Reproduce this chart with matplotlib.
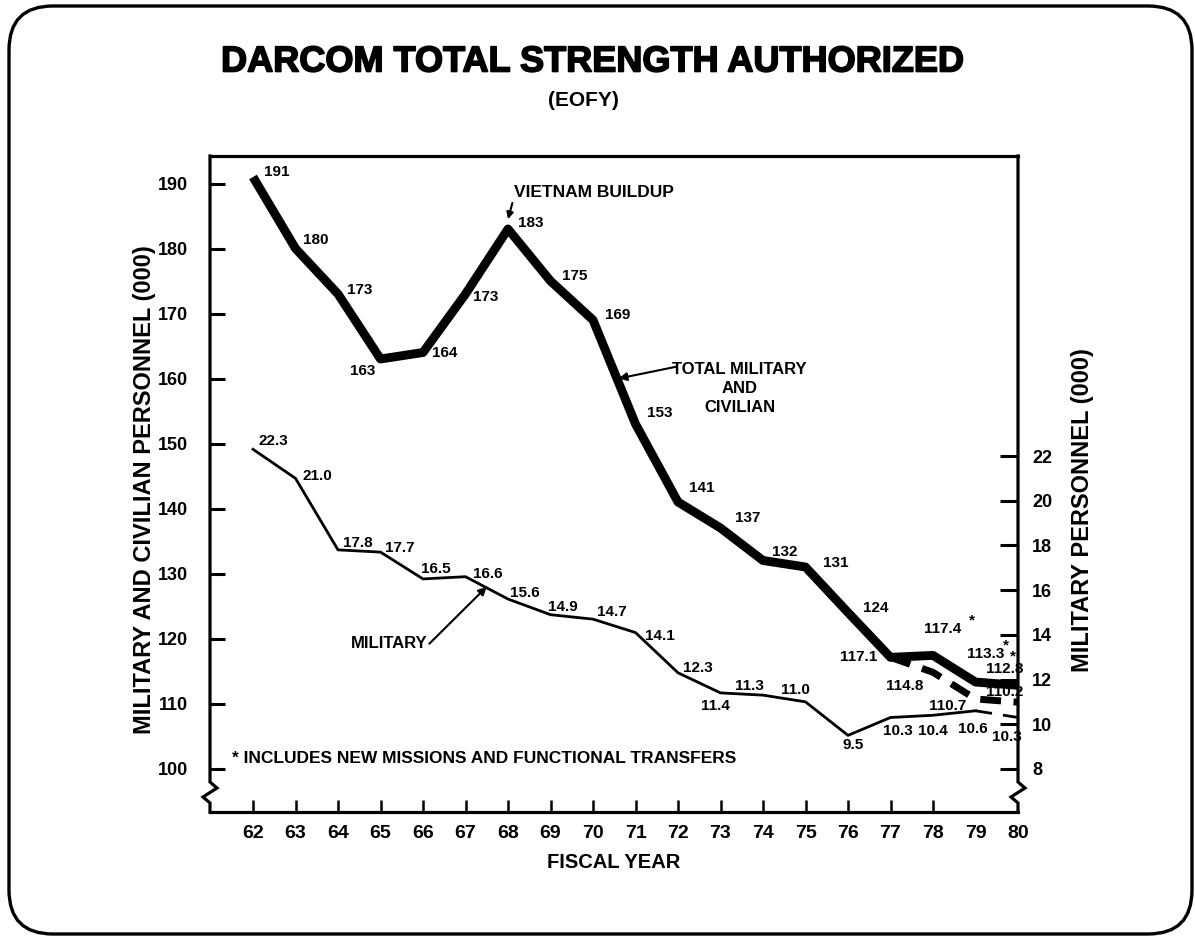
import matplotlib
matplotlib.use('Agg')
import matplotlib.pyplot as plt
import matplotlib.patheffects as pe
from matplotlib.patches import FancyBboxPatch

plt.rcParams['font.family'] = ['Liberation Sans', 'DejaVu Sans']
plt.rcParams['font.weight'] = 'bold'
plt.rcParams['axes.labelweight'] = 'bold'

# ---------------- data ----------------
years = [62, 63, 64, 65, 66, 67, 68, 69, 70, 71, 72, 73, 74, 75, 76, 77, 78, 79, 80]
total = [191, 180, 173, 163, 164, 173, 183, 175, 169, 153, 141, 137, 132, 131, 124,
         117.1, 117.4, 113.3, 112.8]
total_labels = ['191', '180', '173', '163', '164', '173', '183', '175', '169', '153', '141',
                '137', '132', '131', '124', '117.1', '117.4', '113.3', '112.8']
excl_years = [77, 78, 79, 80]
total_excl = [117.1, 114.8, 110.7, 110.2]
excl_labels = [None, '114.8', '110.7', '110.2']
military = [22.3, 21.0, 17.8, 17.7, 16.5, 16.6, 15.6, 14.9, 14.7, 14.1, 12.3, 11.4, 11.3,
            11.0, 9.5, 10.3, 10.4, 10.6, 10.3]
military_labels = ['22.3', '21.0', '17.8', '17.7', '16.5', '16.6', '15.6', '14.9', '14.7',
                   '14.1', '12.3', '11.4', '11.3', '11.0', '9.5', '10.3', '10.4', '10.6', '10.3']
starred_years = [77, 78, 79, 80]
left_ticks = [100, 110, 120, 130, 140, 150, 160, 170, 180, 190]
right_ticks = [8, 10, 12, 14, 16, 18, 20, 22]

# ------------- label offsets (pixels) -------------
total_off = [(24, 5), (20, 9), (22, 4), (-18, -12), (22, 0), (20, -3), (23, 6), (24, 5),
             (25, 5), (24, 11), (24, 14), (27, 10), (22, 9), (30, 4), (28, 4), (-32, 0),
             (10, 26), (10, 28), (-13, 16)]
excl_off = [None, (-28, -14), (-28, -7), (-13, 10)]
mil_off = [(20, 8), (22, 2), (20, 7), (19, 4), (13, 10), (22, 3), (17, 6), (12, 8), (19, 7),
           (24, -3), (20, 5), (-5, -13), (-14, 9), (-10, 12), (5, -10), (7, -14), (0, -16),
           (-3, -18), (-11, -20)]
star_off = [(-17, 17), (39, 35), (30, 37), (-5, 29)]

W, H = 1195, 938
fig = plt.figure(figsize=(W / 100, H / 100), dpi=100)

# background frame
bg = fig.add_axes([0, 0, 1, 1])
bg.set_xlim(0, W)
bg.set_ylim(H, 0)
bg.axis('off')
bg.add_patch(FancyBboxPatch((9, 6), 1183, 928, boxstyle='round,pad=0,rounding_size=44',
                            fc='white', ec='black', lw=2.4))

L, R, T, B = 210, 1018, 156, 812
ax = fig.add_axes([L / W, 1 - B / H, (R - L) / W, (B - T) / H])
ax.patch.set_alpha(0)
ax2 = ax.twinx()
ax.set_xlim(62 - 43 / 42.5, 80)
ax.set_ylim(190 - (B - 183.5) / 6.5, 190 + (183.5 - T) / 6.5)
ax2.set_ylim(22 - (B - 456) / 22.35, 22 + (456 - T) / 22.35)
for a in (ax, ax2):
    for s in a.spines.values():
        s.set_visible(False)

# custom spines with axis-break zigzags
k = dict(color='black', lw=2.3, transform=ax.transAxes, clip_on=False,
         solid_joinstyle='miter', solid_capstyle='projecting')
zx = 7 / (R - L)
fy = lambda py: (B - py) / (B - T)
ax.plot([1, 0], [1, 1], **k)
ax.plot([0, 1], [0, 0], **k)
ax.plot([0, 0, zx, -zx, 0, 0], [1, fy(782), fy(788), fy(797), fy(803), 0], **k)
ax.plot([1, 1, 1 + zx, 1 - zx, 1, 1], [1, fy(782), fy(788), fy(797), fy(803), 0], **k)

# ticks
ax.set_yticks(left_ticks)
ax.set_yticklabels([str(v) for v in left_ticks])
ax.tick_params(axis='y', direction='in', length=11, width=2.2, pad=16, labelsize=13)
ax.set_xticks(years)
ax.set_xticklabels([str(y) for y in years])
ax.tick_params(axis='x', direction='in', length=9, width=1.8, pad=9, labelsize=14)
for t in ax.xaxis.get_major_ticks()[-2:]:
    t.tick1line.set_visible(False)
ax2.set_yticks(right_ticks)
ax2.set_yticklabels([str(v) for v in right_ticks])
ax2.tick_params(axis='y', direction='in', length=13, width=2.2, pad=10, labelsize=13)

# lines
ax.plot(years, total, color='black', lw=6.4, solid_joinstyle='round', solid_capstyle='butt', zorder=3)
ax.plot(excl_years, total_excl, color='black', lw=5, dashes=(3, 1.8), zorder=3)
ax2.plot(years[:-1], military[:-1], color='black', lw=2, solid_joinstyle='round', zorder=3)
ax2.plot(years[-2:], military[-2:], color='black', lw=2, dashes=(6, 4), zorder=3)

fs = 11
for x, v, s, o in zip(years, total, total_labels, total_off):
    ax.annotate(s, (x, v), xytext=o, textcoords='offset pixels', ha='center', va='center', fontsize=fs)
for x, v, s, o in zip(excl_years, total_excl, excl_labels, excl_off):
    if s:
        ax.annotate(s, (x, v), xytext=o, textcoords='offset pixels', ha='center', va='center', fontsize=fs)
for x, v, s, o in zip(years, military, military_labels, mil_off):
    ax2.annotate(s, (x, v), xytext=o, textcoords='offset pixels', ha='center', va='center', fontsize=fs)
for yr, o in zip(starred_years, star_off):
    ax.annotate('*', (yr, total[years.index(yr)]), xytext=o, textcoords='offset pixels',
                ha='center', va='center', fontsize=11)

# annotations
ax.annotate('VIETNAM BUILDUP', xy=(68, 184.5), xytext=(68.15, 188.6), ha='left', va='center',
            fontsize=12.5, arrowprops=dict(arrowstyle='-|>', color='black', lw=1.5,
                                           mutation_scale=10, relpos=(0, 0.3), shrinkA=0, shrinkB=0))
ax.annotate('', xy=(70.6, 160.0), xytext=(71.95, 161.8),
            arrowprops=dict(arrowstyle='-|>', color='black', lw=1.5, mutation_scale=12, shrinkA=0, shrinkB=0))
ax.text(73.45, 158.5, 'TOTAL MILITARY\nAND\nCIVILIAN', ha='center', va='center', fontsize=12,
        linespacing=1.35)
ax.annotate('', xy=(67.5, 16.15), xycoords=ax2.transData, xytext=(66.15, 119.2), textcoords=ax.transData,
            arrowprops=dict(arrowstyle='-|>', color='black', lw=1.5, mutation_scale=12, shrinkA=0, shrinkB=0))
ax.text(66.1, 119.2, 'MILITARY', ha='right', va='center', fontsize=12)
ax.text(61.5, 101.5, '* INCLUDES NEW MISSIONS AND FUNCTIONAL TRANSFERS', ha='left', va='center',
        fontsize=12.5)

# axis labels and titles
ax.set_xlabel('FISCAL YEAR', fontsize=14.5, fontweight='bold', labelpad=8)
fig.text(145 / W, 1 - 490 / H, 'MILITARY AND CIVILIAN PERSONNEL (000)', rotation=90,
         ha='center', va='center', fontsize=17)
fig.text(1083 / W, 1 - 510 / H, 'MILITARY PERSONNEL (000)', rotation=90,
         ha='center', va='center', fontsize=17)
fig.text(592 / W, 1 - 62 / H, 'DARCOM TOTAL STRENGTH AUTHORIZED', ha='center', va='center',
         fontsize=26, fontweight='bold',
         path_effects=[pe.withStroke(linewidth=1.2, foreground='black')])
fig.text(583 / W, 1 - 100 / H, '(EOFY)', ha='center', va='center', fontsize=15)

fig.savefig('out.png', dpi=100)
